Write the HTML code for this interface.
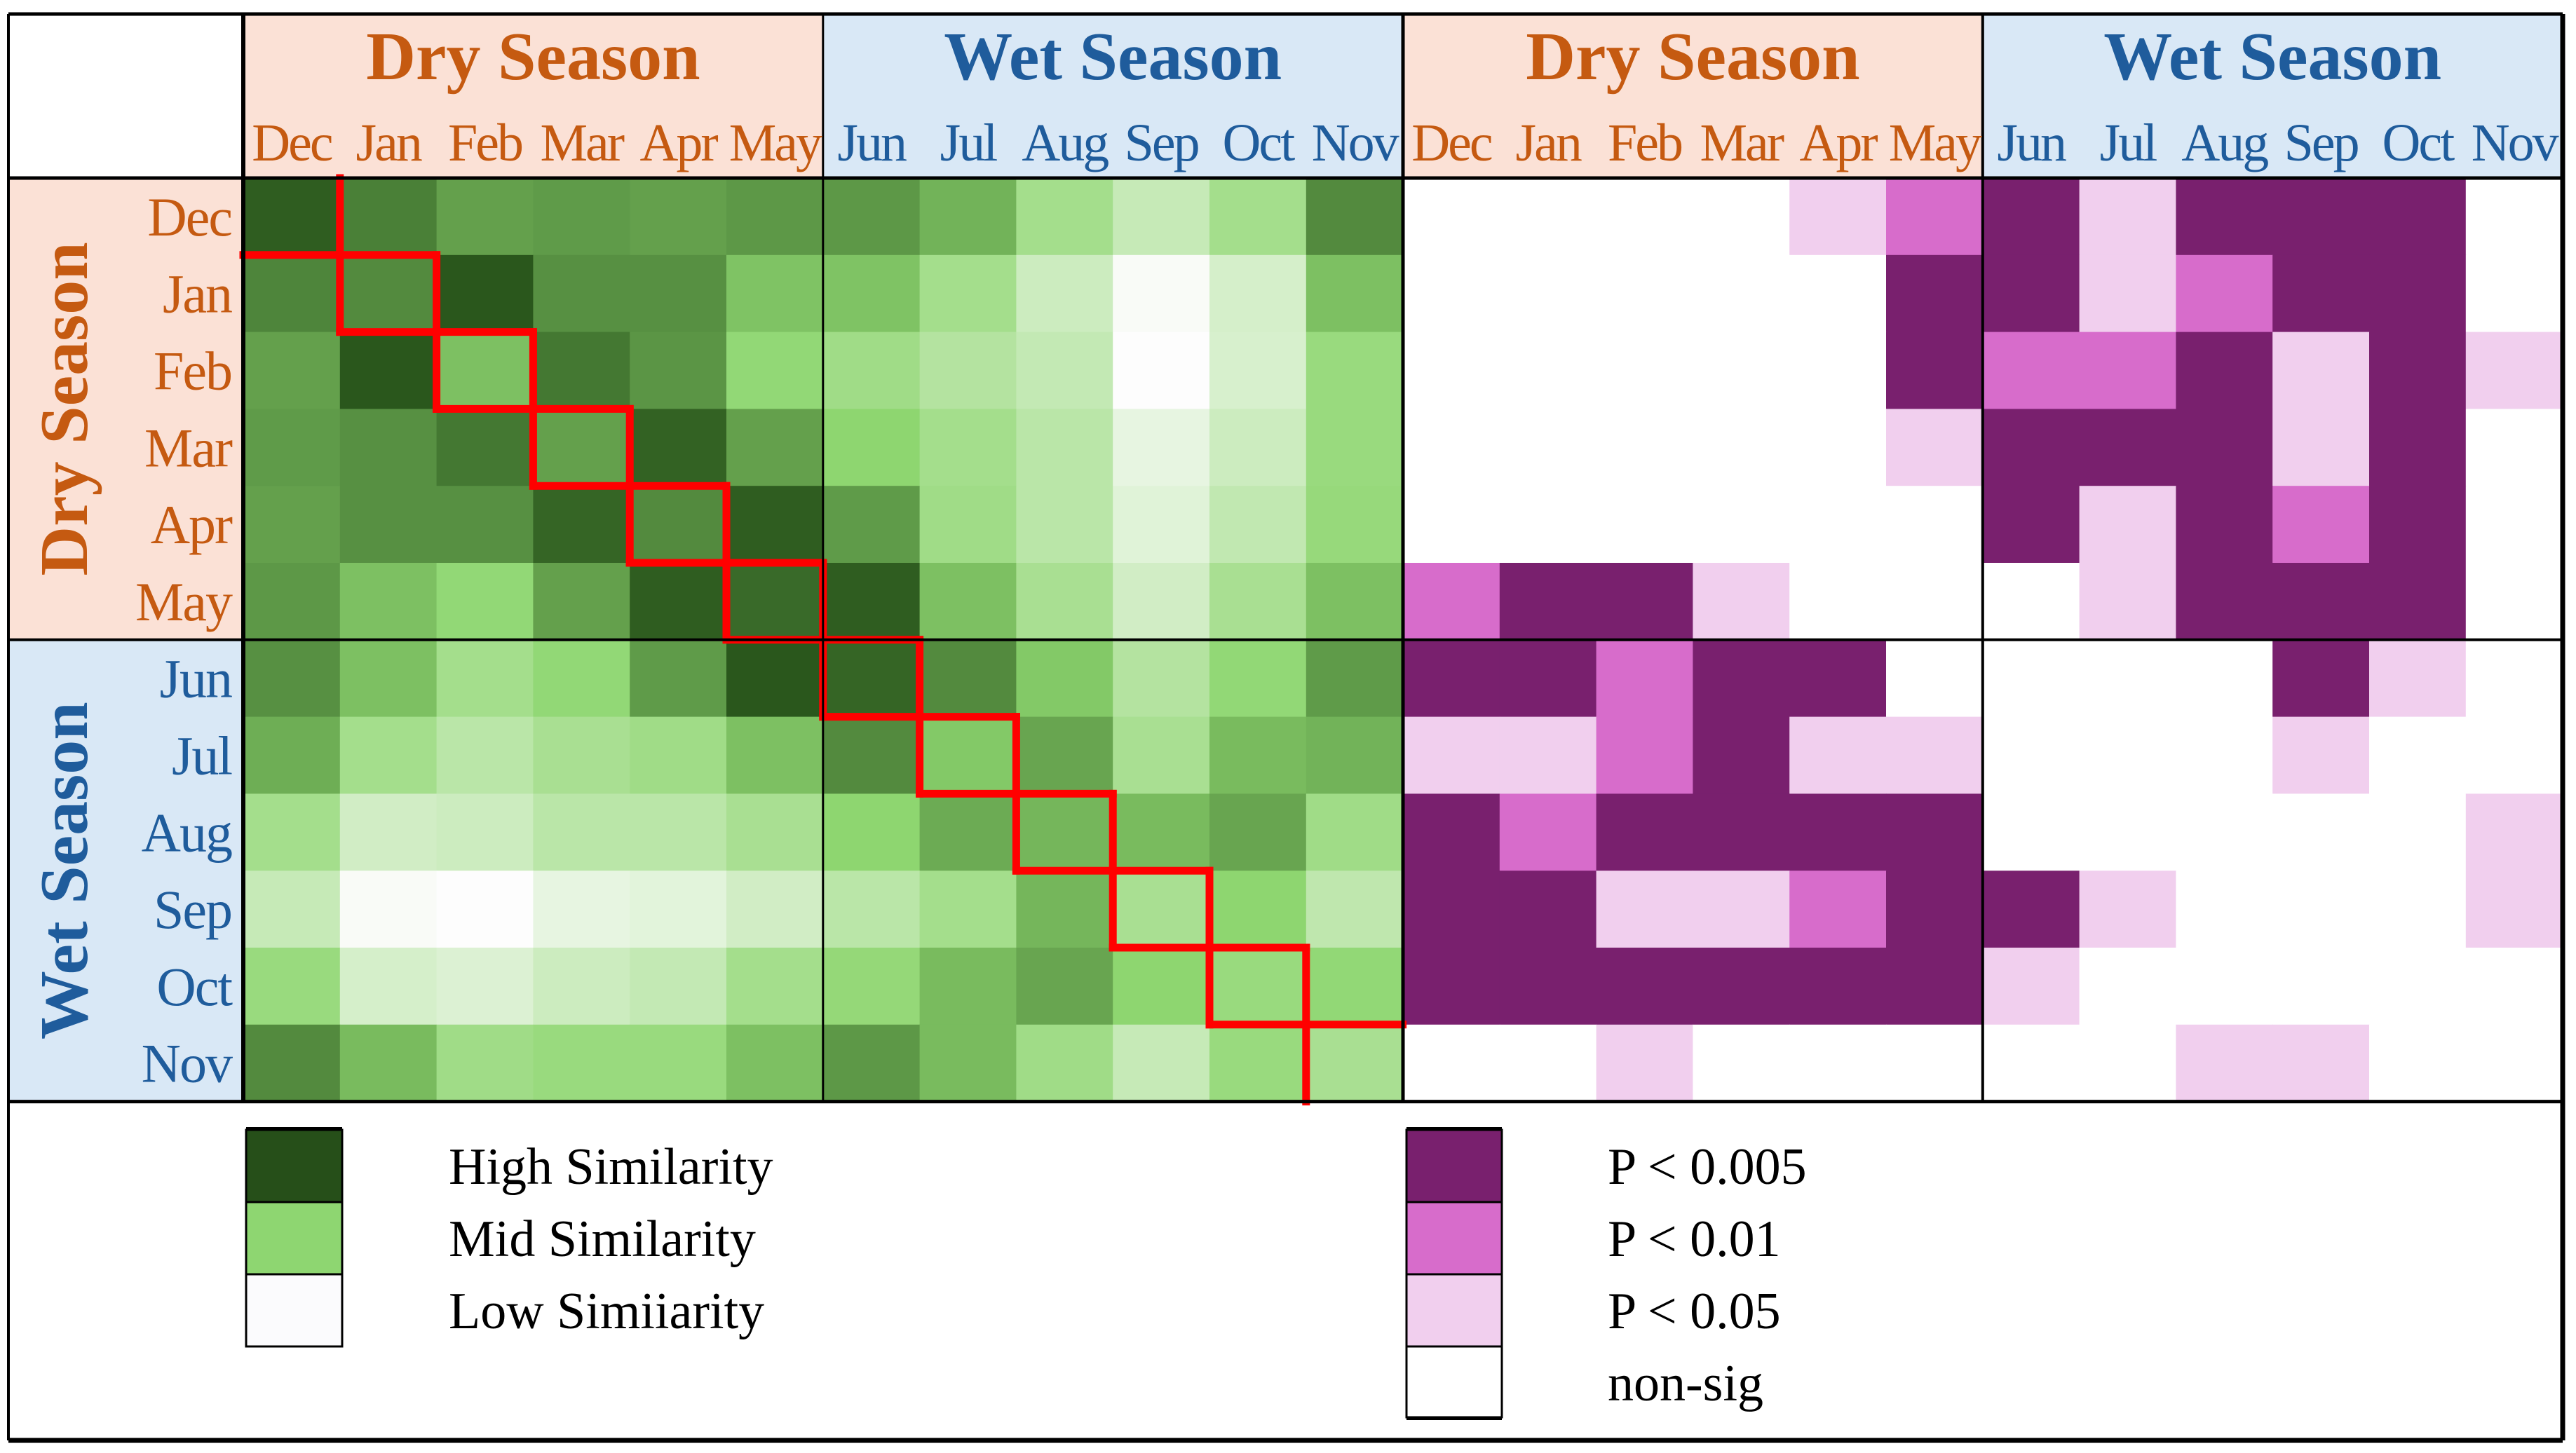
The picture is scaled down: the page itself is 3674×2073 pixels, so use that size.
<!DOCTYPE html>
<html><head><meta charset="utf-8"><style>
html,body{margin:0;padding:0;background:#fff;}
svg{display:block;font-family:"Liberation Serif",serif;}
</style></head><body>
<svg id="chart" width="3674" height="2073" viewBox="0 0 3674 2073" xmlns="http://www.w3.org/2000/svg">
<g id="bg"></g><g id="cells"></g><g id="lines"></g><g id="labels"></g><g id="legend"></g>
</svg>
<script>
const months = ["Dec","Jan","Feb","Mar","Apr","May","Jun","Jul","Aug","Sep","Oct","Nov"];
const seasons = ["Dry Season","Wet Season"];
const similarity = [
[0.95,0.82,0.70,0.72,0.70,0.73,0.73,0.63,0.40,0.25,0.40,0.78],
[0.80,0.78,0.97,0.76,0.76,0.57,0.57,0.40,0.22,0.02,0.18,0.58],
[0.70,0.97,0.58,0.85,0.74,0.48,0.42,0.33,0.26,0.00,0.17,0.45],
[0.72,0.76,0.85,0.70,0.93,0.70,0.50,0.40,0.30,0.10,0.22,0.45],
[0.70,0.76,0.76,0.92,0.78,0.95,0.72,0.42,0.30,0.13,0.27,0.46],
[0.73,0.58,0.48,0.70,0.95,0.90,0.95,0.58,0.38,0.20,0.38,0.58],
[0.76,0.58,0.40,0.48,0.72,0.97,0.92,0.78,0.55,0.33,0.48,0.72],
[0.65,0.40,0.30,0.38,0.42,0.58,0.78,0.55,0.68,0.38,0.60,0.63],
[0.40,0.20,0.22,0.30,0.30,0.38,0.50,0.66,0.62,0.60,0.68,0.42],
[0.25,0.02,0.00,0.10,0.12,0.20,0.30,0.40,0.62,0.38,0.50,0.28],
[0.45,0.18,0.15,0.22,0.26,0.40,0.47,0.60,0.68,0.50,0.45,0.48],
[0.78,0.60,0.42,0.45,0.45,0.58,0.73,0.60,0.42,0.25,0.45,0.38]];
const significance = [
[0,0,0,0,1,2,3,1,3,3,3,0],
[0,0,0,0,0,3,3,1,2,3,3,0],
[0,0,0,0,0,3,2,2,3,1,3,1],
[0,0,0,0,0,1,3,3,3,1,3,0],
[0,0,0,0,0,0,3,1,3,2,3,0],
[2,3,3,1,0,0,0,1,3,3,3,0],
[3,3,2,3,3,0,0,0,0,3,1,0],
[1,1,2,3,1,1,0,0,0,1,0,0],
[3,2,3,3,3,3,0,0,0,0,0,1],
[3,3,1,1,2,3,3,1,0,0,0,1],
[3,3,3,3,3,3,1,0,0,0,0,0],
[0,0,1,0,0,0,0,0,1,1,0,0]];
const simLegend = ["High Similarity","Mid Similarity","Low Simiiarity"];
const sigLegend = ["P < 0.005","P < 0.01","P < 0.05","non-sig"];

const NS="http://www.w3.org/2000/svg";
const L=347, T=254, CW=137.8, RH=109.8, L2=2001;
const DRY="#fbe1d6", WET="#d9e8f6", DRYT="#c55a11", WETT="#1f5c9c";
const sigCol=["#ffffff","#f1cfee","#d76ccb","#79206e"];
function el(tag,attrs,parent,text){const e=document.createElementNS(NS,tag);for(const k in attrs)e.setAttribute(k,attrs[k]);if(text!==undefined)e.textContent=text;document.getElementById(parent).appendChild(e);return e;}
function xs(c){return L+c*CW;} function xs2(c){return L2+c*CW;} function ys(r){return T+r*RH;}
function lerp(a,b,t){return a.map((v,i)=>Math.round(v+(b[i]-v)*t));}
function green(v){const w=[253,253,253],m=[142,214,112],d=[36,79,23];
 const c=v<0.5?lerp(w,m,v/0.5):lerp(m,d,(v-0.5)/0.5);return `rgb(${c[0]},${c[1]},${c[2]})`;}

let e;
e=el("rect",{x:12,y:20,width:3643,height:2036,fill:"#fff"},"bg");

[[L,DRY],[L+6*CW,WET],[L2,DRY],[L2+6*CW,WET]].forEach((p,i)=>{
 e=el("rect",{x:p[0],y:20,width:6*CW,height:T-20,fill:p[1]},"bg");
 });
e=el("rect",{x:12,y:T,width:L-12,height:6*RH,fill:DRY},"bg");

e=el("rect",{x:12,y:T+6*RH,width:L-12,height:6*RH,fill:WET},"bg");


for(let r=0;r<12;r++)for(let c=0;c<12;c++){
 e=el("rect",{x:xs(c),y:ys(r),width:CW+0.6,height:RH+0.6,fill:green(similarity[r][c])},"cells");
 
 e=el("rect",{x:xs2(c),y:ys(r),width:CW+0.6,height:RH+0.6,fill:sigCol[significance[r][c]]},"cells");
 
}
for(let k=1;k<12;k++){
 e=el("line",{x1:xs(k),y1:ys(k-1),x2:xs(k),y2:ys(k+1),stroke:"#ff0000","stroke-width":11,"stroke-linecap":"square"},"cells");
 
 e=el("line",{x1:xs(k-1),y1:ys(k),x2:xs(Math.min(k+1,12)),y2:ys(k),stroke:"#ff0000","stroke-width":11,"stroke-linecap":"square"},"cells");
 
}
function ln(x1,y1,x2,y2,w){const q=el("line",{x1,y1,x2,y2,stroke:"#000","stroke-width":w},"lines");
 }
ln(12,20,3655,20,5); ln(12,T,3655,T,5); ln(12,T+12*RH,3655,T+12*RH,5); ln(12,2055,3655,2055,7);
ln(12,20,12,2055,4); ln(3655,20,3655,2055,7); ln(L,20,L,T+12*RH,6); ln(L2,20,L2,T+12*RH,5);
ln(L+6*CW,20,L+6*CW,T+12*RH,3); ln(L2+6*CW,20,L2+6*CW,T+12*RH,4);
ln(12,T+6*RH,3655,T+6*RH,4);

[L,L2].forEach(x0=>{
 seasons.forEach((s,i)=>{
  e=el("text",{x:x0+(i*6+3)*CW,y:113,"text-anchor":"middle","font-size":98,"font-weight":"bold",fill:i?WETT:DRYT},"labels",s);
  
 });
 months.forEach((m,c)=>{
  e=el("text",{x:x0+(c+0.5)*CW,y:229,"text-anchor":"middle","font-size":76,fill:c<6?DRYT:WETT,"letter-spacing":-3},"labels",m);
  
 });
});
months.forEach((m,r)=>{
 e=el("text",{x:330,y:ys(r)+RH/2+27,"text-anchor":"end","font-size":78,fill:r<6?DRYT:WETT,"letter-spacing":-2},"labels",m);
 
});
seasons.forEach((s,i)=>{
 const cy=ys(i*6+3);
 e=el("text",{x:0,y:0,"text-anchor":"middle","font-size":98,"font-weight":"bold",fill:i?WETT:DRYT,transform:`translate(124,${cy}) rotate(-90)`},"labels",s);
 
});

const LY=[1612,1715,1818,1921,2022];
const simCols=["#264f19","#8ed671","#fbfbfd"];
simLegend.forEach((t,i)=>{
 e=el("rect",{x:351,y:LY[i],width:137,height:LY[i+1]-LY[i],fill:simCols[i],stroke:"#000","stroke-width":3},"legend");
 
 e=el("text",{x:640,y:LY[i]+77,"font-size":74,fill:"#000"},"legend",t);
 
});
ln(351,1612,488,1612,8);
sigLegend.forEach((t,i)=>{
 e=el("rect",{x:2006,y:LY[i],width:136,height:LY[i+1]-LY[i],fill:sigCol[3-i],stroke:"#000","stroke-width":3},"legend");
 
 e=el("text",{x:2293,y:LY[i]+77,"font-size":74,fill:"#000"},"legend",t);
 
});
ln(2006,1612,2142,1612,8); ln(2006,2022,2142,2022,8);
</script>
</body></html>
